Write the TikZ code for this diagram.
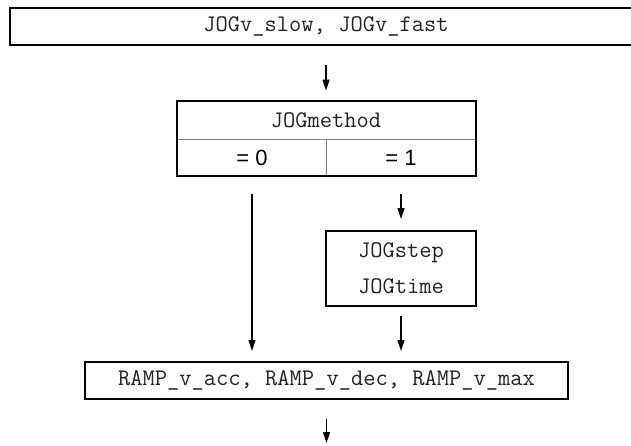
\documentclass[tikz,border=0pt]{standalone}
\usepackage{fontspec}
\setmainfont{Liberation Sans}
\usetikzlibrary{arrows.meta}
\definecolor{ink}{HTML}{222222}
\tikzset{
  box/.style={draw=black, line width=2pt, inner sep=0pt, font=\ttfamily\fontsize{23.8}{36}\selectfont, text=ink},
  cell/.style={draw=gray, line width=0.9pt, inner sep=0pt, text=ink},
  flow/.style={line width=1.3pt, -{Triangle[width=7pt,length=11pt]}},
}
\begin{document}
\begin{tikzpicture}[x=1pt,y=-1pt]
\useasboundingbox (0,0) rectangle (631,445);
\fill[white] (0,0) rectangle (631,445);
\node[box, minimum width=632pt, minimum height=37.5pt] (top) at (326,26.5) {JOGv\_slow, JOGv\_fast};
\node[cell, minimum width=298pt, minimum height=38pt, font=\ttfamily\fontsize{23.8}{25}\selectfont] (jm) at (326,120) {JOGmethod};
\node[cell, minimum width=149pt, minimum height=37pt, font=\fontsize{22}{25}\selectfont, text=black] (c0) at (252,157.5) {= 0};
\node[cell, minimum width=149pt, minimum height=37pt, font=\fontsize{22}{25}\selectfont, text=black] (c1) at (401,157.5) {= 1};
\draw[line width=2pt] (jm.north west) rectangle (c1.south east);
\node[box, minimum width=150pt, minimum height=75pt, align=center] (step) at (401,268.5) {JOGstep\\JOGtime};
\node[box, minimum width=483pt, minimum height=37pt] (ramp) at (326.5,380.5) {RAMP\_v\_acc, RAMP\_v\_dec, RAMP\_v\_max};
\coordinate (out) at (326.5,443);
\draw[flow, shorten <=19pt, shorten >=10pt] (top.south -| jm.north) -- (jm.north);
\draw[flow, shorten <=18pt, shorten >=10pt] (c0.south) -- (c0.south |- ramp.north);
\draw[flow, shorten <=18pt, shorten >=11pt] (c1.south) -- (step.north);
\draw[flow, shorten <=9pt, shorten >=10pt] (step.south) -- (step.south |- ramp.north);
\draw[flow, shorten <=19pt] (ramp.south) -- (out);
\end{tikzpicture}
\end{document}
